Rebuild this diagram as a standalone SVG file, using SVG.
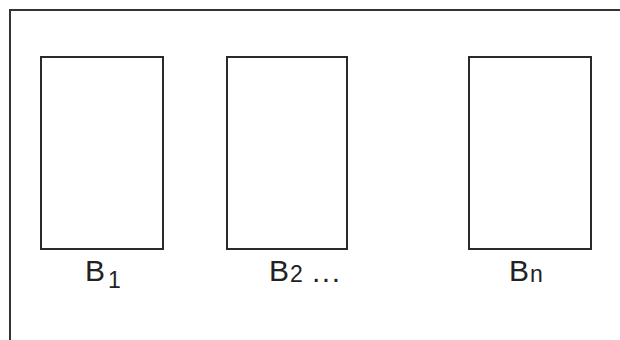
<svg xmlns="http://www.w3.org/2000/svg" width="620" height="340" viewBox="0 0 620 340">
<style>
.frame{fill:none;stroke:#333;stroke-width:2}
.box{fill:#fff;stroke:#2a2a2a;stroke-width:2}
.lbl{font-family:"Liberation Sans",Arial,sans-serif;fill:#222;font-size:30px}
.sub{font-size:23px}
</style>
<rect width="620" height="340" fill="#fff"/>
<g id="frame"><path class="frame" d="M10,340 V10 H620"/></g>
<g id="b1">
<rect class="box" x="41" y="57" width="122" height="192"/>
<text class="lbl"><tspan x="85" y="281">B</tspan><tspan class="sub" x="108" y="288">1</tspan></text>
</g>
<g id="b2">
<rect class="box" x="227" y="57" width="120" height="192"/>
<text class="lbl"><tspan x="269" y="281">B</tspan><tspan class="sub" x="290" y="282">2</tspan><tspan x="312" y="282" letter-spacing="1.5">...</tspan></text>
</g>
<g id="bn">
<rect class="box" x="469" y="57" width="122" height="192"/>
<text class="lbl"><tspan x="509" y="281">B</tspan><tspan class="sub" x="530" y="282">n</tspan></text>
</g>
<g id="connectors"/>
</svg>
